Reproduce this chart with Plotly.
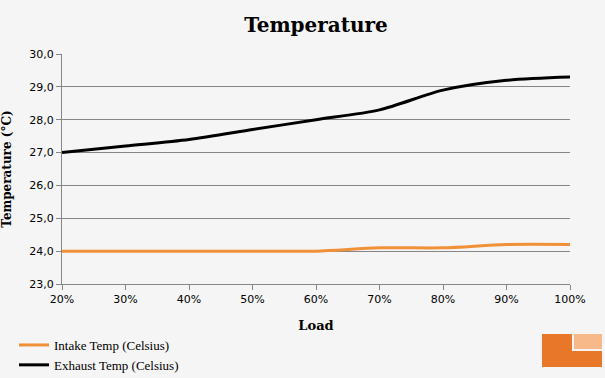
import plotly.graph_objects as go

load = [20, 30, 40, 50, 60, 70, 80, 90, 100]
intake = [24.0, 24.0, 24.0, 24.0, 24.0, 24.1, 24.1, 24.2, 24.2]
exhaust = [27.0, 27.2, 27.4, 27.7, 28.0, 28.3, 28.9, 29.2, 29.3]
ytick_vals = [23, 24, 25, 26, 27, 28, 29, 30]
ytick_text = ["23,0", "24,0", "25,0", "26,0", "27,0", "28,0", "29,0", "30,0"]
xtick_vals = load
xtick_text = [f"{v}%" for v in load]

fig = go.Figure()
fig.add_trace(go.Scatter(x=load, y=intake, mode="lines", name="Intake Temp (Celsius)",
                         line=dict(color="#F0913A", width=3, shape="spline", smoothing=0.8)))
fig.add_trace(go.Scatter(x=load, y=exhaust, mode="lines", name="Exhaust Temp (Celsius)",
                         line=dict(color="#000000", width=3, shape="spline", smoothing=0.8)))

bg = "#F5F5F5"
PL, PR, PT, PB = 62, 570, 54, 284
pw, ph = PR - PL, PB - PT
fig.update_layout(
    width=605, height=378,
    paper_bgcolor=bg, plot_bgcolor=bg,
    margin=dict(l=PL, r=605 - PR, t=PT, b=378 - PB, autoexpand=False),
    title=dict(text="<b>Temperature</b>", x=0.5, xanchor="center", xref="paper",
               y=1 - 25 / 378, yanchor="middle",
               font=dict(family="DejaVu Serif", size=20, color="#000")),
    xaxis=dict(range=[20, 100], tickvals=xtick_vals, ticktext=xtick_text,
               showgrid=False, zeroline=False, showline=True, linecolor="#868686", linewidth=1,
               ticks="outside", ticklen=5, tickcolor="#868686",
               tickfont=dict(family="DejaVu Sans", size=11, color="#000"),
               title=dict(text="<b>Load</b>", font=dict(family="DejaVu Serif", size=13, color="#000"))),
    yaxis=dict(range=[23, 30], tickvals=ytick_vals, ticktext=ytick_text,
               showgrid=True, gridcolor="#868686", gridwidth=1, zeroline=False,
               showline=True, linecolor="#868686", linewidth=1,
               ticks="outside", ticklen=5, tickcolor="#868686",
               tickfont=dict(family="DejaVu Sans", size=11, color="#000"),
               title=dict(text="<b>Temperature (°C)</b>", font=dict(family="DejaVu Serif", size=12, color="#000"))),
    legend=dict(x=(14 - PL) / pw, xanchor="left",
                y=-(330 - PB) / ph, yanchor="top", orientation="v",
                font=dict(family="Liberation Serif", size=13, color="#000"),
                bgcolor="rgba(0,0,0,0)", tracegroupgap=0),
    showlegend=True,
)

# logo approximation (decorative)
fig.add_shape(type="rect", xref="paper", yref="paper",
              x0=(542 - PL) / pw, x1=(602 - PL) / pw, y0=-(367 - PB) / ph, y1=-(334 - PB) / ph,
              fillcolor="#E8772A", line=dict(width=0), layer="above")
fig.add_shape(type="rect", xref="paper", yref="paper",
              x0=(572 - PL) / pw, x1=(602 - PL) / pw, y0=-(351 - PB) / ph, y1=-(334 - PB) / ph,
              fillcolor="#F5F5F5", line=dict(width=0), layer="above")
fig.add_shape(type="rect", xref="paper", yref="paper",
              x0=(574 - PL) / pw, x1=(602 - PL) / pw, y0=-(349 - PB) / ph, y1=-(334 - PB) / ph,
              fillcolor="#F7B98A", line=dict(width=0), layer="above")

fig.write_html("out.html", config={"displayModeBar": False},
               post_script="document.body.style.margin='0';document.body.style.background='#F5F5F5';")
